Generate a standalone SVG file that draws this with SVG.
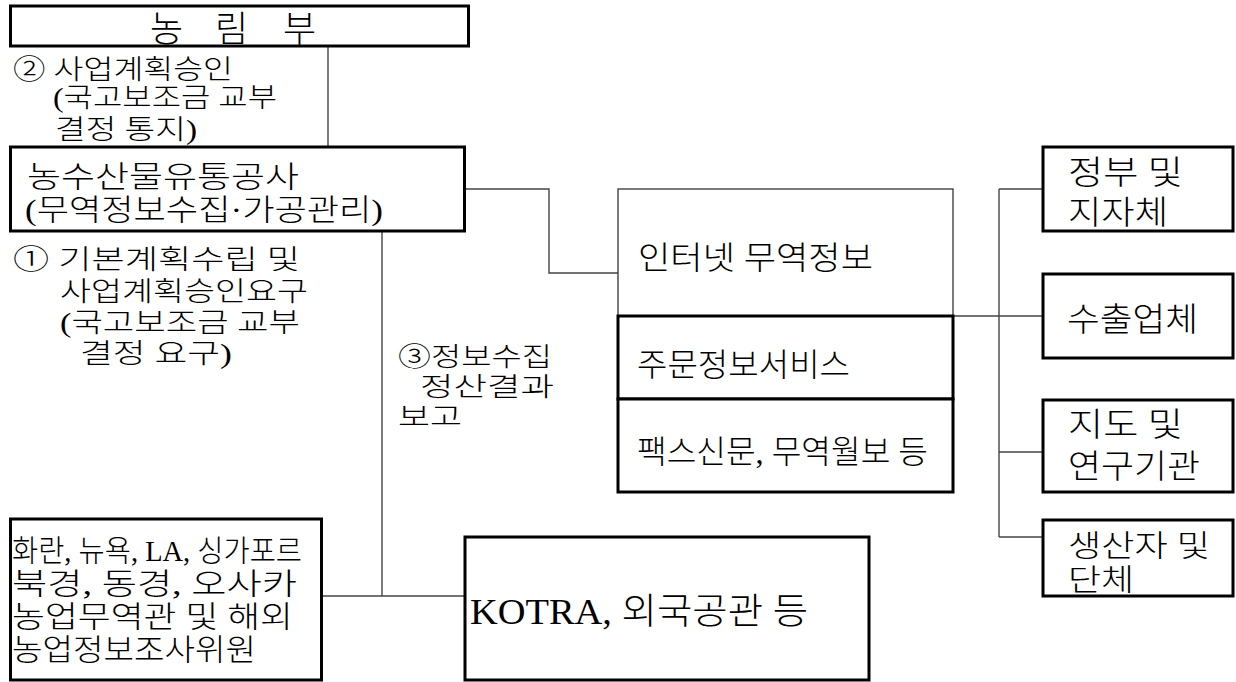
<svg xmlns="http://www.w3.org/2000/svg" width="1236" height="682" viewBox="0 0 1236 682">
<style>
  .box{fill:#fff;stroke:#000;stroke-width:3}
  .thin{fill:#fff;stroke:#333;stroke-width:1.3}
  .conn{fill:none;stroke:#444;stroke-width:1.4}
  text{font-family:"Liberation Serif","Noto Sans CJK KR",serif;fill:#000;font-weight:300}
  .t36{font-size:36px}
  .t26{font-size:26px}
  .t27{font-size:27px}
  .t30{font-size:30px}
  .t32{font-size:32px}
  .t33{font-size:33px}
  .tk{font-size:36px}
</style>
<rect width="1236" height="682" fill="#fff"/>
<g id="connectors">
  <path class="conn" d="M328 47V147"/>
  <path class="conn" d="M465 189H549V273H618"/>
  <path class="conn" d="M953 316H1043"/>
  <path class="conn" d="M999 189V537"/>
  <path class="conn" d="M999 189H1043M999 452H1043M999 537H1043"/>
  <path class="conn" d="M382 231V596"/>
  <path class="conn" d="M322 596H465"/>
</g>
<g id="nongrimbu">
  <rect class="box" x="10.5" y="6" width="458" height="40"/>
  <text class="t36" x="150 215 283" y="42">농림부</text>
</g>
<g id="label2">
  <text class="t27" x="13" y="79" textLength="220" lengthAdjust="spacingAndGlyphs">② 사업계획승인</text>
  <text class="t27" x="53" y="107" textLength="224" lengthAdjust="spacingAndGlyphs">(국고보조금 교부</text>
  <text class="t27" x="55" y="139" textLength="142" lengthAdjust="spacingAndGlyphs">결정 통지)</text>
</g>
<g id="gongsa">
  <rect class="box" x="10.5" y="147" width="454" height="84"/>
  <text class="t30" x="27" y="187" textLength="272" lengthAdjust="spacingAndGlyphs">농수산물유통공사</text>
  <text class="t30" x="25" y="220" textLength="358" lengthAdjust="spacingAndGlyphs">(무역정보수집·가공관리)</text>
</g>
<g id="label1">
  <text class="t27" x="13" y="269" textLength="287" lengthAdjust="spacingAndGlyphs">① 기본계획수립 및</text>
  <text class="t27" x="60" y="301" textLength="248" lengthAdjust="spacingAndGlyphs">사업계획승인요구</text>
  <text class="t27" x="60" y="332" textLength="240" lengthAdjust="spacingAndGlyphs">(국고보조금 교부</text>
  <text class="t27" x="80" y="363" textLength="152" lengthAdjust="spacingAndGlyphs">결정 요구)</text>
</g>
<g id="label3">
  <text class="t26" x="398" y="366" textLength="154" lengthAdjust="spacingAndGlyphs">③정보수집</text>
  <text class="t26" x="420" y="396" textLength="134" lengthAdjust="spacingAndGlyphs">정산결과</text>
  <text class="t26" x="398" y="426" textLength="64" lengthAdjust="spacingAndGlyphs">보고</text>
</g>
<g id="internet">
  <rect class="thin" x="618" y="189" width="335" height="127"/>
  <text class="t32" x="638" y="269" textLength="235" lengthAdjust="spacingAndGlyphs">인터넷 무역정보</text>
</g>
<g id="jumun">
  <rect class="box" x="618" y="316" width="335" height="83"/>
  <text class="t32" x="637" y="376" textLength="213" lengthAdjust="spacingAndGlyphs">주문정보서비스</text>
</g>
<g id="fax">
  <rect class="box" x="618" y="399" width="335" height="93"/>
  <text class="t32" x="637" y="463" textLength="291" lengthAdjust="spacingAndGlyphs">팩스신문, 무역월보 등</text>
</g>
<g id="jeongbu">
  <rect class="box" x="1043" y="147" width="190" height="84"/>
  <text class="t33" x="1068" y="184" textLength="115" lengthAdjust="spacingAndGlyphs">정부 및</text>
  <text class="t33" x="1068" y="224" textLength="100" lengthAdjust="spacingAndGlyphs">지자체</text>
</g>
<g id="suchul">
  <rect class="box" x="1043" y="274" width="190" height="84"/>
  <text class="t33" x="1067" y="331" textLength="131" lengthAdjust="spacingAndGlyphs">수출업체</text>
</g>
<g id="jido">
  <rect class="box" x="1043" y="400" width="190" height="92"/>
  <text class="t33" x="1068" y="436" textLength="115" lengthAdjust="spacingAndGlyphs">지도 및</text>
  <text class="t33" x="1068" y="478" textLength="132" lengthAdjust="spacingAndGlyphs">연구기관</text>
</g>
<g id="saengsanja">
  <rect class="box" x="1043" y="520" width="190" height="76"/>
  <text class="t30" x="1068" y="556" textLength="142" lengthAdjust="spacingAndGlyphs">생산자 및</text>
  <text class="t30" x="1068" y="590" textLength="66" lengthAdjust="spacingAndGlyphs">단체</text>
</g>
<g id="overseas">
  <rect class="box" x="10.5" y="519" width="311" height="161"/>
  <text class="t30" x="12" y="561" textLength="290" lengthAdjust="spacingAndGlyphs">화란, 뉴욕, LA, 싱가포르</text>
  <text class="t30" x="12" y="594" textLength="285" lengthAdjust="spacingAndGlyphs">북경, 동경, 오사카</text>
  <text class="t30" x="12" y="627" textLength="281" lengthAdjust="spacingAndGlyphs">농업무역관 및 해외</text>
  <text class="t30" x="12" y="660" textLength="244" lengthAdjust="spacingAndGlyphs">농업정보조사위원</text>
</g>
<g id="kotra">
  <rect class="box" x="465" y="537" width="404" height="143"/>
  <text class="tk" x="470" y="624" textLength="338" lengthAdjust="spacingAndGlyphs">KOTRA, 외국공관 등</text>
</g>
</svg>
